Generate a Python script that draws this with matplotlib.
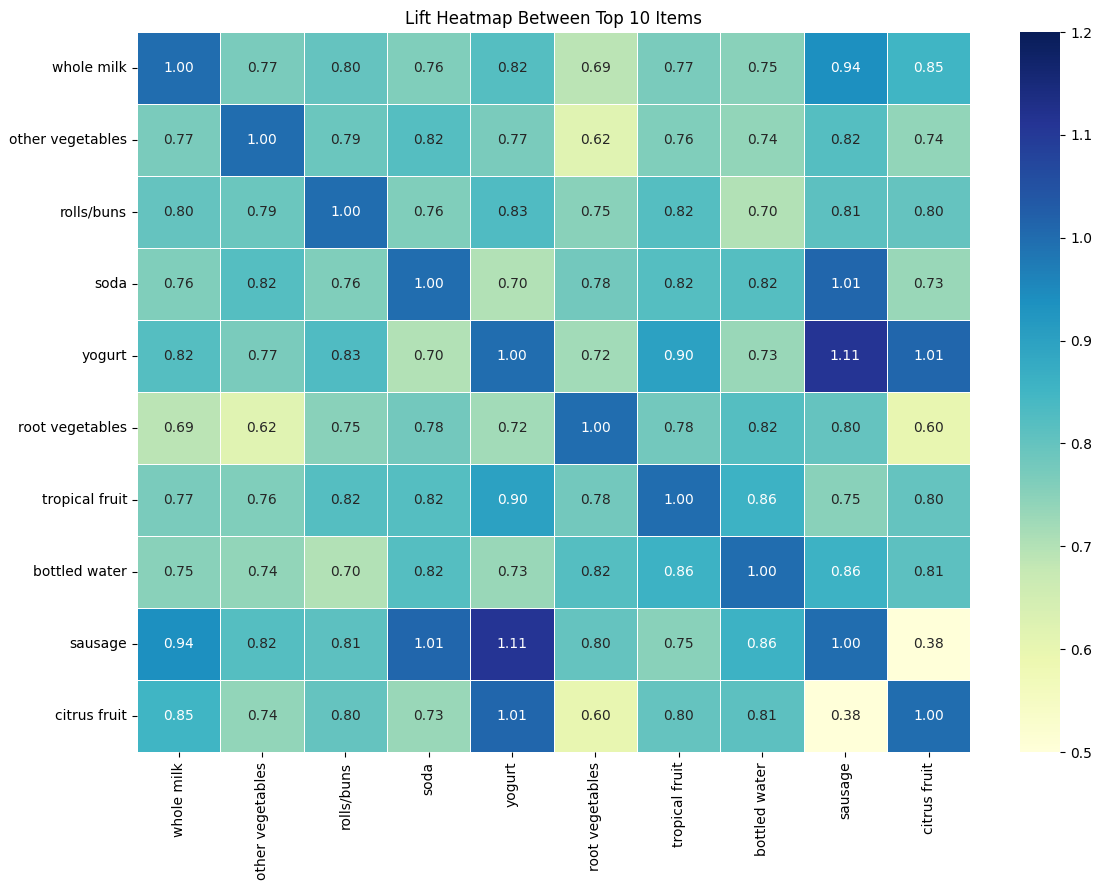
import numpy as np
import matplotlib
matplotlib.use("Agg")
import matplotlib.pyplot as plt
import seaborn as sns

items = ["whole milk", "other vegetables", "rolls/buns", "soda", "yogurt",
         "root vegetables", "tropical fruit", "bottled water", "sausage", "citrus fruit"]

lift = np.array([
    [1.00, 0.77, 0.80, 0.76, 0.82, 0.69, 0.77, 0.75, 0.94, 0.85],
    [0.77, 1.00, 0.79, 0.82, 0.77, 0.62, 0.76, 0.74, 0.82, 0.74],
    [0.80, 0.79, 1.00, 0.76, 0.83, 0.75, 0.82, 0.70, 0.81, 0.80],
    [0.76, 0.82, 0.76, 1.00, 0.70, 0.78, 0.82, 0.82, 1.01, 0.73],
    [0.82, 0.77, 0.83, 0.70, 1.00, 0.72, 0.90, 0.73, 1.11, 1.01],
    [0.69, 0.62, 0.75, 0.78, 0.72, 1.00, 0.78, 0.82, 0.80, 0.60],
    [0.77, 0.76, 0.82, 0.82, 0.90, 0.78, 1.00, 0.86, 0.75, 0.80],
    [0.75, 0.74, 0.70, 0.82, 0.73, 0.82, 0.86, 1.00, 0.86, 0.81],
    [0.94, 0.82, 0.81, 1.01, 1.11, 0.80, 0.75, 0.86, 1.00, 0.38],
    [0.85, 0.74, 0.80, 0.73, 1.01, 0.60, 0.80, 0.81, 0.38, 1.00],
])

fig = plt.figure(figsize=(11.01, 8.9), dpi=100)
ax = fig.add_axes([0.1244, 0.155, 0.757, 0.809])
cax = fig.add_axes([0.926, 0.155, 0.037, 0.809])
sns.heatmap(lift, annot=True, fmt=".2f", cmap="YlGnBu", vmin=0.5, vmax=1.2,
            linewidths=0.5, linecolor="white", xticklabels=items, yticklabels=items,
            ax=ax, cbar_ax=cax)
ax.set_title("Lift Heatmap Between Top 10 Items")
ax.tick_params(axis="x", rotation=90)
ax.tick_params(axis="y", rotation=0)
fig.savefig("out.png")
